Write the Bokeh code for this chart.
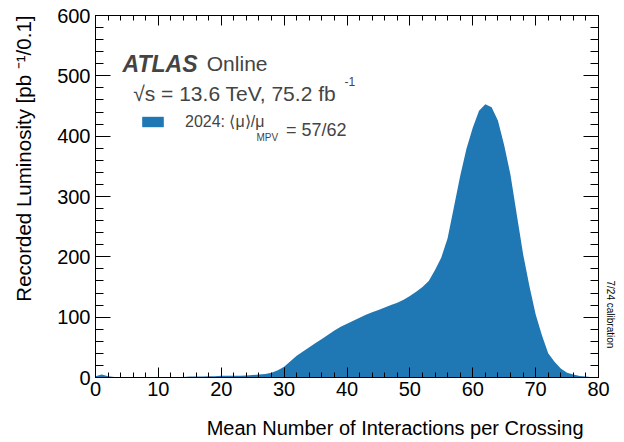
import math
from bokeh.plotting import figure
from bokeh.models import (LinearAxis, Range1d, Label, Legend, LegendItem, Title,
                          ColumnDataSource, SingleIntervalTicker,
                          CustomJSTickFormatter)
from bokeh.embed import file_html
from bokeh.resources import INLINE

# ---- data ----
mu = list(range(0, 81))
lumi = [2, 5, 2, 1, 1, 1, 1, 1, 1, 1,
        1, 1, 1, 1, 1, 1.5, 1.5, 1.5, 2, 2,
        3, 3, 3, 3, 3.5, 4, 5, 6, 8, 12,
        18, 27, 36, 43, 50, 57, 64, 71, 78, 84,
        89, 94, 99, 104, 108, 112, 116, 120, 124, 129,
        135, 142, 150, 160, 178, 199, 231, 282, 334, 379,
        414, 442, 453, 448, 426, 385, 336, 270, 205, 152,
        105, 70, 40, 26, 15, 8, 5, 2.5, 1.5, 0.5,
        0]
x_ticks_interval = 10
y_ticks_interval = 100
x_title = "Mean Number of Interactions per Crossing"
y_title = "Recorded Luminosity [pb \u207b\u00b9/0.1]"
legend_label = "2024: \u27e8\u03bc\u27e9/\u03bc"
legend_sub = "MPV"
legend_tail = "= 57/62"

FONT = "Liberation Sans"
BLUE = "#1f77b4"
HAS_STANDOFF = "standoff" in Title.properties()

src = ColumnDataSource(dict(mu=mu, lumi=lumi))

p = figure(width=624, height=442, output_backend="svg", toolbar_location=None,
           x_range=Range1d(0, 80), y_range=Range1d(0, 600),
           min_border_left=95, min_border_right=26, min_border_top=15,
           min_border_bottom=65)
p.grid.visible = False
p.outline_line_color = "black"
p.background_fill_color = "white"
p.border_fill_color = "white"

r = p.varea(x="mu", y1=0, y2="lumi", source=src, fill_color=BLUE)

def style(ax, major_in, minor_in, labels=True):
    ax.major_tick_in = major_in
    ax.major_tick_out = 0
    ax.minor_tick_in = minor_in
    ax.minor_tick_out = 0
    ax.axis_line_color = "black"
    ax.major_tick_line_color = "black"
    ax.minor_tick_line_color = "black"
    if labels:
        ax.major_label_text_font = FONT
        ax.major_label_text_font_size = "20px"
        ax.major_label_text_color = "black"
    else:
        ax.formatter = CustomJSTickFormatter(code="return ''")
        ax.major_label_standoff = 0

p.xaxis.ticker = SingleIntervalTicker(interval=x_ticks_interval, num_minor_ticks=5)
p.yaxis.ticker = SingleIntervalTicker(interval=y_ticks_interval, num_minor_ticks=5)
style(p.xaxis[0], 10, 5)
style(p.yaxis[0], 15, 8)
p.xaxis.major_label_standoff = 4
p.yaxis.major_label_standoff = 5

top = LinearAxis(ticker=SingleIntervalTicker(interval=x_ticks_interval, num_minor_ticks=5))
style(top, 10, 5, labels=False)
p.add_layout(top, "above")
right = LinearAxis(ticker=SingleIntervalTicker(interval=y_ticks_interval, num_minor_ticks=5))
style(right, 15, 8, labels=False)
p.add_layout(right, "right")

# invisible spacer axes that push the axis titles outward
def spacer(size, interval):
    return LinearAxis(ticker=SingleIntervalTicker(interval=interval, num_minor_ticks=0),
                      formatter=CustomJSTickFormatter(code="return ''"),
                      major_tick_out=size, major_tick_in=0,
                      minor_tick_out=0, minor_tick_in=0, major_label_standoff=0,
                      axis_line_color=None, major_tick_line_color=None,
                      minor_tick_line_color=None)

p.add_layout(spacer(16, x_ticks_interval), "below")
p.add_layout(spacer(20, y_ticks_interval), "left")

# axis titles (ROOT style, right/top aligned)
def title(text, align, offset, size, standoff, valign="bottom"):
    kw = dict(text=text, align=align, offset=offset, text_font=FONT,
              vertical_align=valign,
              text_font_size=size, text_font_style="normal", text_color="black")
    if HAS_STANDOFF:
        kw["standoff"] = standoff
    return Title(**kw)

p.add_layout(title(x_title, "right", 15, "20px", 0), "below")
p.add_layout(title(y_title, "right", 0, "20.5px", 0), "left")
p.add_layout(title("7/24 calibration", "left", 265, "10px", 13), "right")

# ATLAS labels
p.add_layout(Label(x=4.3, y=520, text="ATLAS", text_font=FONT, text_font_size="23px",
                   text_font_style="bold italic", text_baseline="alphabetic"))
p.add_layout(Label(x=17.7, y=520, text="Online", text_font=FONT, text_font_size="21px",
                   text_baseline="alphabetic"))
p.add_layout(Label(x=6.0, y=471, text="\u221as = 13.6 TeV, 75.2 fb",
                   text_font=FONT, text_font_size="21px", text_baseline="alphabetic"))
p.add_layout(Label(x=39.6, y=490, text="-1",
                   text_font=FONT, text_font_size="12px", text_baseline="alphabetic"))

# legend
leg = Legend(items=[LegendItem(label=legend_label, renderers=[r])],
             location=(44, 246), padding=0, margin=0, spacing=0,
             glyph_width=27, glyph_height=13, label_standoff=19,
             label_text_font=FONT, label_text_font_size="16px",
             border_line_alpha=0, background_fill_alpha=0)
p.add_layout(leg)
p.add_layout(Label(x=25.6, y=397, text=legend_sub, text_font=FONT,
                   text_font_size="10px", text_baseline="alphabetic"))
p.add_layout(Label(x=30.3, y=410, text=legend_tail, text_font=FONT,
                   text_font_size="18px", text_baseline="alphabetic"))

open("out.html", "w").write(file_html(p, INLINE))
